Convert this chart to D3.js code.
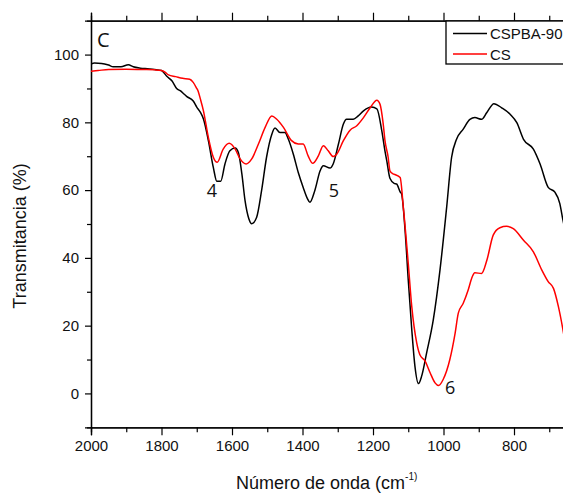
<!DOCTYPE html>
<html>
<head>
<meta charset="utf-8">
<script src="https://cdn.jsdelivr.net/npm/d3@7"></script>
<style>
  body { margin: 0; background: #fff; }
  svg { display: block; }
  text { font-family: "Liberation Sans", Arial, sans-serif; fill: #111; }
</style>
</head>
<body>
<div id="chart"></div>
<script>
//////////////////////////////////////////////////////////////////////////////
// data

var cspbaWave = [2000, 1990, 1970, 1950, 1937, 1915, 1894, 1880, 1860, 1840, 1820, 1800,
    1785, 1770, 1757, 1745, 1738, 1728, 1710, 1700, 1690, 1681, 1667, 1653, 1643, 1632,
    1620, 1606, 1591, 1582, 1572, 1563, 1552, 1544, 1530, 1516, 1502, 1487, 1478, 1464,
    1450, 1440, 1426, 1412, 1398, 1386, 1379, 1365, 1350, 1341, 1322, 1313, 1298, 1284,
    1275, 1256, 1242, 1227, 1215, 1204, 1189, 1175, 1166, 1161, 1152, 1140, 1133, 1123,
    1119, 1109, 1100, 1090, 1081, 1071, 1062, 1048, 1029, 1010, 991, 977, 963, 944, 925,
    911, 892, 877, 857, 835, 811, 792, 773, 745, 726, 703, 684, 670, 662, 655];
var cspbaTrans = [97.2, 97.5, 97.4, 96.9, 96.4, 96.4, 97.0, 96.4, 96.0, 95.8, 95.6, 95.3,
    93.6, 92.2, 90.0, 89.2, 88.5, 87.6, 86.3, 84.5, 83.0, 81.0, 74.6, 66.7, 62.6, 62.6,
    67.7, 71.6, 72.4, 71.1, 64.8, 56.9, 51.5, 50.1, 52.0, 59.9, 69.7, 76.5, 78.3, 77.0,
    77.0, 75.0, 70.6, 65.2, 60.8, 57.5, 56.4, 59.9, 65.7, 67.2, 66.5, 67.7, 73.6, 79.5,
    80.9, 80.9, 81.9, 83.4, 84.2, 84.5, 84.0, 77.5, 71.5, 68.7, 63.5, 62.0, 61.8, 59.5,
    58.9, 48.1, 33.5, 18.8, 8.0, 2.9, 5.1, 11.9, 21.7, 36.4, 55.0, 69.7, 75.0, 78.0, 80.9,
    81.4, 80.9, 82.9, 85.5, 84.3, 82.4, 79.9, 75.0, 72.1, 67.7, 60.8, 59.4, 56.0, 51.6, 48.0];

var csWave = [2000, 1980, 1950, 1900, 1850, 1820, 1800, 1790, 1780, 1760, 1740, 1720,
    1710, 1700, 1696, 1690, 1681, 1667, 1653, 1642, 1625, 1608, 1591, 1577, 1560, 1544,
    1525, 1506, 1487, 1473, 1454, 1431, 1412, 1398, 1384, 1371, 1355, 1341, 1327, 1313,
    1303, 1284, 1265, 1246, 1227, 1208, 1189, 1180, 1171, 1166, 1157, 1152, 1143, 1138,
    1123, 1114, 1100, 1090, 1076, 1067, 1052, 1038, 1024, 1014, 1001, 982, 967, 958, 944,
    930, 920, 911, 892, 877, 859, 840, 821, 802, 773, 745, 721, 703, 688, 674, 662, 655];
var csTrans = [95.1, 95.3, 95.6, 95.7, 95.6, 95.5, 95.3, 94.8, 94.0, 93.5, 93.0, 92.7,
    91.8, 90.0, 89.2, 87.0, 83.4, 75.5, 69.7, 68.2, 72.1, 73.8, 72.1, 69.2, 67.7, 69.2,
    73.6, 78.5, 81.9, 80.9, 78.5, 74.6, 73.6, 73.6, 70.1, 67.9, 70.1, 73.1, 71.6, 69.9,
    70.6, 74.6, 77.7, 79.0, 81.4, 84.3, 86.5, 85.3, 79.5, 74.6, 69.7, 65.7, 64.8, 64.6,
    63.7, 55.0, 38.4, 25.6, 14.9, 11.4, 9.5, 6.1, 3.1, 2.3, 4.1, 10.0, 17.8, 23.7, 26.6,
    30.5, 34.0, 35.6, 35.4, 39.3, 46.7, 48.9, 49.3, 48.6, 45.2, 41.8, 36.4, 33.0, 31.0,
    25.6, 19.3, 15.0];

var seriesNames = ["CSPBA-90", "CS"];
var seriesColors = ["#000000", "#ff0000"];

var xMajor = [2000, 1800, 1600, 1400, 1200, 1000, 800];
var xMinor = [1900, 1700, 1500, 1300, 1100, 900, 700];
var yMajor = [0, 20, 40, 60, 80, 100];
var yMinor = [10, 30, 50, 70, 90];

var bandLabels = ["4", "5", "6"];
var bandWave = [1657, 1311, 981];
var bandTrans = [57.9, 57.9, -0.2];

//////////////////////////////////////////////////////////////////////////////
// layout

var W = 563, H = 494;
var plotLeft = 91, plotTop = 20.7, plotBottom = 427.3;

var x = d3.scaleLinear().domain([2000, 650]).range([plotLeft, plotLeft + 1350 * 0.3525]);
var y = d3.scaleLinear().domain([-10, 110]).range([plotBottom, plotTop]);

var svg = d3.select("#chart").append("svg")
    .attr("width", W)
    .attr("height", H);

svg.append("defs").append("clipPath")
    .attr("id", "plotclip")
    .append("rect")
    .attr("x", plotLeft)
    .attr("y", plotTop)
    .attr("width", x.range()[1] - plotLeft)
    .attr("height", plotBottom - plotTop);

function styleAxis(g) {
    g.select(".domain").attr("stroke", "#000").attr("stroke-width", 1.3);
    g.selectAll(".tick line").attr("stroke", "#000").attr("stroke-width", 1.2);
    g.selectAll(".tick text").style("font-size", "15px").attr("fill", "#111");
}

// bottom axis
svg.append("g")
    .attr("transform", "translate(0," + plotBottom + ")")
    .call(d3.axisBottom(x).tickValues(xMinor).tickSize(5).tickFormat(""))
    .call(styleAxis);
svg.append("g")
    .attr("transform", "translate(0," + plotBottom + ")")
    .call(d3.axisBottom(x).tickValues(xMajor).tickSize(8).tickPadding(5).tickFormat(d3.format("d")))
    .call(styleAxis);

// top axis (ticks only)
svg.append("g")
    .attr("transform", "translate(0," + plotTop + ")")
    .call(d3.axisTop(x).tickValues(xMinor).tickSize(5).tickFormat(""))
    .call(styleAxis);
svg.append("g")
    .attr("transform", "translate(0," + plotTop + ")")
    .call(d3.axisTop(x).tickValues(xMajor).tickSize(8).tickFormat(""))
    .call(styleAxis);

// left axis
svg.append("g")
    .attr("transform", "translate(" + plotLeft + ",0)")
    .call(d3.axisLeft(y).tickValues(yMinor).tickSize(4).tickFormat(""))
    .call(styleAxis);
svg.append("g")
    .attr("transform", "translate(" + plotLeft + ",0)")
    .call(d3.axisLeft(y).tickValues(yMajor).tickSize(6).tickPadding(6).tickFormat(d3.format("d")))
    .call(styleAxis);

// axis titles
svg.append("text")
    .attr("transform", "translate(26," + ((plotTop + plotBottom) / 2 + 12) + ") rotate(-90)")
    .attr("text-anchor", "middle")
    .style("font-size", "18px")
    .text("Transmitancia (%)");

var xt = svg.append("text")
    .attr("x", 236)
    .attr("y", 489)
    .style("font-size", "18px");
xt.append("tspan").text("Número de onda (cm");
xt.append("tspan").attr("dy", -9).style("font-size", "10px").text("-1)");

//////////////////////////////////////////////////////////////////////////////
// spectra

var line = d3.line()
    .x(function (d) { return x(d[0]); })
    .y(function (d) { return y(d[1]); })
    .curve(d3.curveMonotoneX);

var plot = svg.append("g").attr("clip-path", "url(#plotclip)");

plot.append("path")
    .datum(d3.zip(cspbaWave, cspbaTrans))
    .attr("fill", "none")
    .attr("stroke", seriesColors[0])
    .attr("stroke-width", 1.5)
    .attr("stroke-linejoin", "round")
    .attr("d", line);

plot.append("path")
    .datum(d3.zip(csWave, csTrans))
    .attr("fill", "none")
    .attr("stroke", seriesColors[1])
    .attr("stroke-width", 1.5)
    .attr("stroke-linejoin", "round")
    .attr("d", line);

// panel letter and band labels
svg.append("text")
    .attr("x", 97)
    .attr("y", 46.5)
    .style("font-family", "'Open Sans', sans-serif")
    .style("font-size", "20px")
    .text("C");

svg.selectAll(".band")
    .data(bandLabels)
    .enter().append("text")
    .attr("class", "band")
    .attr("x", function (d, i) { return x(bandWave[i]); })
    .attr("y", function (d, i) { return y(bandTrans[i]); })
    .attr("text-anchor", "middle")
    .style("font-family", "'Open Sans', sans-serif")
    .style("font-size", "18px")
    .text(function (d) { return d; });

//////////////////////////////////////////////////////////////////////////////
// legend

var lg = svg.append("g");
lg.append("rect")
    .attr("x", 446)
    .attr("y", 21)
    .attr("width", 140)
    .attr("height", 43)
    .attr("fill", "#fff")
    .attr("stroke", "#000")
    .attr("stroke-width", 1.3);

seriesNames.forEach(function (name, i) {
    var ly = 33.5 + i * 20.5;
    lg.append("line")
        .attr("x1", 453).attr("x2", 487)
        .attr("y1", ly).attr("y2", ly)
        .attr("stroke", seriesColors[i])
        .attr("stroke-width", 1.5);
    lg.append("text")
        .attr("x", 490)
        .attr("y", ly + 5.5)
        .style("font-size", "15px")
        .text(name);
});
</script>
</body>
</html>
